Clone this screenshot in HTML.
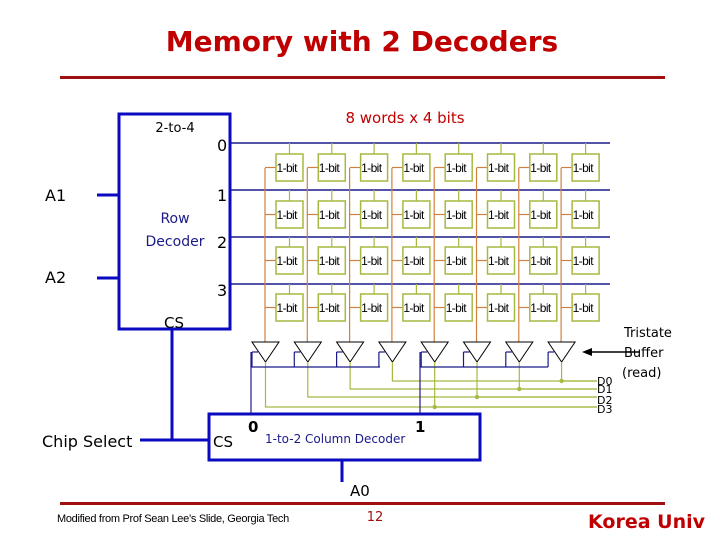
<!DOCTYPE html>
<html><head><meta charset="utf-8"><style>
html,body{margin:0;padding:0;background:#fff;width:720px;height:540px;overflow:hidden}
svg{display:block}
text{font-family:"DejaVu Sans","Liberation Sans",sans-serif}
</style></head><body>
<svg width="720" height="540" viewBox="0 0 720 540" xmlns="http://www.w3.org/2000/svg">
<text x="362" y="51" text-anchor="middle" font-size="28" font-weight="bold" fill="#c00000" style="font-family:'DejaVu Sans',sans-serif">Memory with 2 Decoders</text>
<rect x="60" y="76" width="605" height="3" fill="#a01010"/>
<rect x="60" y="502" width="605" height="3" fill="#a01010"/>
<text x="405" y="123" text-anchor="middle" font-size="15" fill="#c00000">8 words x 4 bits</text>

<rect x="119" y="114" width="111" height="215" fill="none" stroke="#0a0ac0" stroke-width="3"/>
<text x="175" y="132" text-anchor="middle" font-size="13" fill="#000">2-to-4</text>
<text x="175" y="223" text-anchor="middle" font-size="14" fill="#1a1a8a">Row</text>
<text x="175" y="246" text-anchor="middle" font-size="14" fill="#1a1a8a">Decoder</text>
<text x="174" y="328" text-anchor="middle" font-size="15" fill="#000">CS</text>
<g font-size="16" fill="#000">
<text x="217" y="151">0</text><text x="217" y="201">1</text><text x="217" y="248">2</text><text x="217" y="296">3</text>
<text x="45" y="201">A1</text><text x="45" y="283">A2</text>
<text x="42" y="447">Chip Select</text>
</g>
<g stroke="#0a0ac0" stroke-width="3">
<line x1="97" y1="195" x2="119" y2="195"/><line x1="97" y1="278" x2="119" y2="278"/>
<line x1="172" y1="330" x2="172" y2="440"/><line x1="140" y1="440" x2="209" y2="440"/>
<line x1="342" y1="460" x2="342" y2="482"/>
</g>
<g stroke="#1a1a8a" stroke-width="1.5">
<line x1="231" y1="143" x2="610" y2="143"/><line x1="231" y1="190" x2="610" y2="190"/>
<line x1="231" y1="237" x2="610" y2="237"/><line x1="231" y1="284" x2="610" y2="284"/>
</g>

<g id="cells"></g>

<rect x="209" y="414" width="271" height="46" fill="none" stroke="#0a0ac0" stroke-width="3"/>
<text x="213" y="447" font-size="15" fill="#000">CS</text>
<text x="248" y="432" font-size="15" font-weight="bold" fill="#000">0</text>
<text x="415" y="432" font-size="15" font-weight="bold" fill="#000">1</text>
<text x="265" y="443" font-size="12" fill="#1a1a8a">1-to-2 Column Decoder</text>
<text x="350" y="496" font-size="15" fill="#000">A0</text>
<g stroke="#1a1a8a" stroke-width="1.2" fill="none">
<line x1="251" y1="367" x2="380" y2="367"/><line x1="251" y1="352" x2="251" y2="414"/>
<line x1="420" y1="367" x2="548" y2="367"/><line x1="420" y1="352" x2="420" y2="414"/>
</g>
<text x="57" y="522" font-size="11" fill="#000" style="font-family:'Liberation Sans',sans-serif;letter-spacing:-0.3px">Modified from Prof Sean Lee’s Slide, Georgia Tech</text>
<text x="375" y="521" text-anchor="middle" font-size="13" fill="#a01010">12</text>
<text x="705" y="528" text-anchor="end" font-size="19" font-weight="bold" fill="#c00000">Korea Univ</text>
<g font-size="13" fill="#000"><text x="624" y="337">Tristate</text><text x="624" y="357">Buffer</text><text x="622" y="377">(read)</text></g>
<line x1="640" y1="352" x2="590" y2="352" stroke="#000" stroke-width="1.5"/>
<polygon points="582,352 592,348 592,356" fill="#000"/>
<g font-size="11" fill="#000" style="font-family:'Liberation Sans',sans-serif">
<text x="597" y="385">D0</text><text x="597" y="393">D1</text><text x="597" y="404">D2</text><text x="597" y="413">D3</text></g>
</svg>
<script>
(function(){
var g=document.getElementById('cells'),s='';
var rows=[154,201,247,294],rl=[143,190,237,284];
var dy=[381,389,397,407];
for(var c=0;c<8;c++){
 var x=276+c*42.3,vx=265+c*42.3;
 s+='<line x1="'+vx+'" y1="168" x2="'+vx+'" y2="342" stroke="#d08040" stroke-width="1.2"/>';
 for(var r=0;r<4;r++){
  var y=rows[r];
  s+='<line x1="'+(x+13.5)+'" y1="'+rl[r]+'" x2="'+(x+13.5)+'" y2="'+y+'" stroke="#a8b840" stroke-width="1.2"/>';
  s+='<line x1="'+vx+'" y1="'+(y+13.5)+'" x2="'+x+'" y2="'+(y+13.5)+'" stroke="#d08040" stroke-width="1.2"/>';
  s+='<rect x="'+x+'" y="'+y+'" width="27" height="27" fill="#fff" stroke="#a8b840" stroke-width="1.5"/>';
  s+='<text x="'+(x+0.5)+'" y="'+(y+18)+'" font-size="12" fill="#000" style="font-family:\'Liberation Sans\',sans-serif;letter-spacing:-0.6px">1-bit</text>';
 }
 var bx=vx-13;
 s+='<line x1="'+bx+'" y1="352" x2="'+bx+'" y2="367" stroke="#1a1a8a" stroke-width="1.2"/>';
 s+='<line x1="'+bx+'" y1="352" x2="'+(bx+6)+'" y2="352" stroke="#1a1a8a" stroke-width="1.2"/>';
 s+='<polygon points="'+bx+',342 '+(bx+27)+',342 '+(bx+13.5)+',362" fill="#fff" stroke="#000" stroke-width="1"/>';
 var d=(c<4)?dy[3-c]:dy[7-c];
 var ax=bx+13.5;
 s+='<polyline points="'+ax+',362 '+ax+','+d+' 597,'+d+'" fill="none" stroke="#a8b840" stroke-width="1.2"/>';
 if(c>=4) s+='<circle cx="'+ax+'" cy="'+d+'" r="2.2" fill="#a8b840"/>';
}
g.innerHTML=s;
})();
</script>
</body></html>
